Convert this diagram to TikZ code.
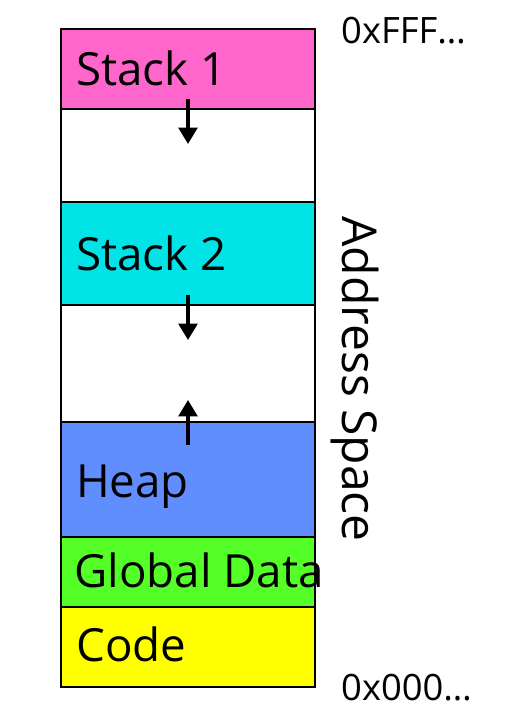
\documentclass[tikz,border=0pt]{standalone}
\usepackage{fontspec}
\setmainfont{Open Sans}
\usepackage{xcolor}
\usepackage{tikz}
\usetikzlibrary{arrows.meta, positioning}
\newlength\px
\setlength\px{0.03cm}
\definecolor{stackpink}{RGB}{255,102,204}
\definecolor{stackcyan}{RGB}{0,228,232}
\definecolor{heapblue}{RGB}{97,142,255}
\definecolor{globalgreen}{RGB}{84,255,40}
\definecolor{codeyellow}{RGB}{255,255,0}
\tikzset{
	seg/.style={draw, line width=2pt, minimum width=254\px, inner sep=0pt, outer sep=0pt},
	lbl/.style={anchor=base west, inner sep=0pt, font=\fontsize{39pt}{44pt}\selectfont},
	addr/.style={anchor=base west, inner sep=0pt, font=\fontsize{31pt}{34pt}\selectfont},
	growarrow/.style={line width=3pt, -{Triangle[width=16pt,length=14pt]}}
}

\begin{document}
\begin{tikzpicture}[x=\px, y=-\px]
				\useasboundingbox (0,0) rectangle (516,724);
				\node [seg, fill=stackpink, minimum height=80\px] (stack1) at (188,69) {};
				\node [seg, fill=white, minimum height=93\px, below=0pt of stack1] (free1) {};
				\node [seg, fill=stackcyan, minimum height=103\px, below=0pt of free1] (stack2) {};
				\node [seg, fill=white, minimum height=117\px, below=0pt of stack2] (free2) {};
				\node [seg, fill=heapblue, minimum height=115\px, below=0pt of free2] (heap) {};
				\node [seg, fill=globalgreen, minimum height=70\px, below=0pt of heap] (global) {};
				\node [seg, fill=codeyellow, minimum height=80\px, below=0pt of global] (code) {};
				
				\node [lbl] (stack1lbl) at (76,85) {Stack 1};
				\node [lbl] (stack2lbl) at (76,270) {Stack 2};
				\node [lbl] (heaplbl) at (76,497) {Heap};
				\node [lbl] (globallbl) at (74,587) {Global Data};
				\node [lbl] (codelbl) at (76,661) {Code};
				
				\draw [growarrow] (stack1.south) ++(0,-10) -- ++(0,45);
				\draw [growarrow] (stack2.south) ++(0,-10) -- ++(0,45);
				\draw [growarrow] (heap.north) ++(0,23) -- ++(0,-45);
				
				\node [addr] (high) at (341,43) {0xFFF\ldots};
				\node [addr] (low) at (341,700) {0x000\ldots};
				\node [anchor=center, rotate=-90, inner sep=0pt, font=\fontsize{41pt}{46pt}\selectfont] (space) at (355,379) {Address Space};
			\end{tikzpicture}
\end{document}
